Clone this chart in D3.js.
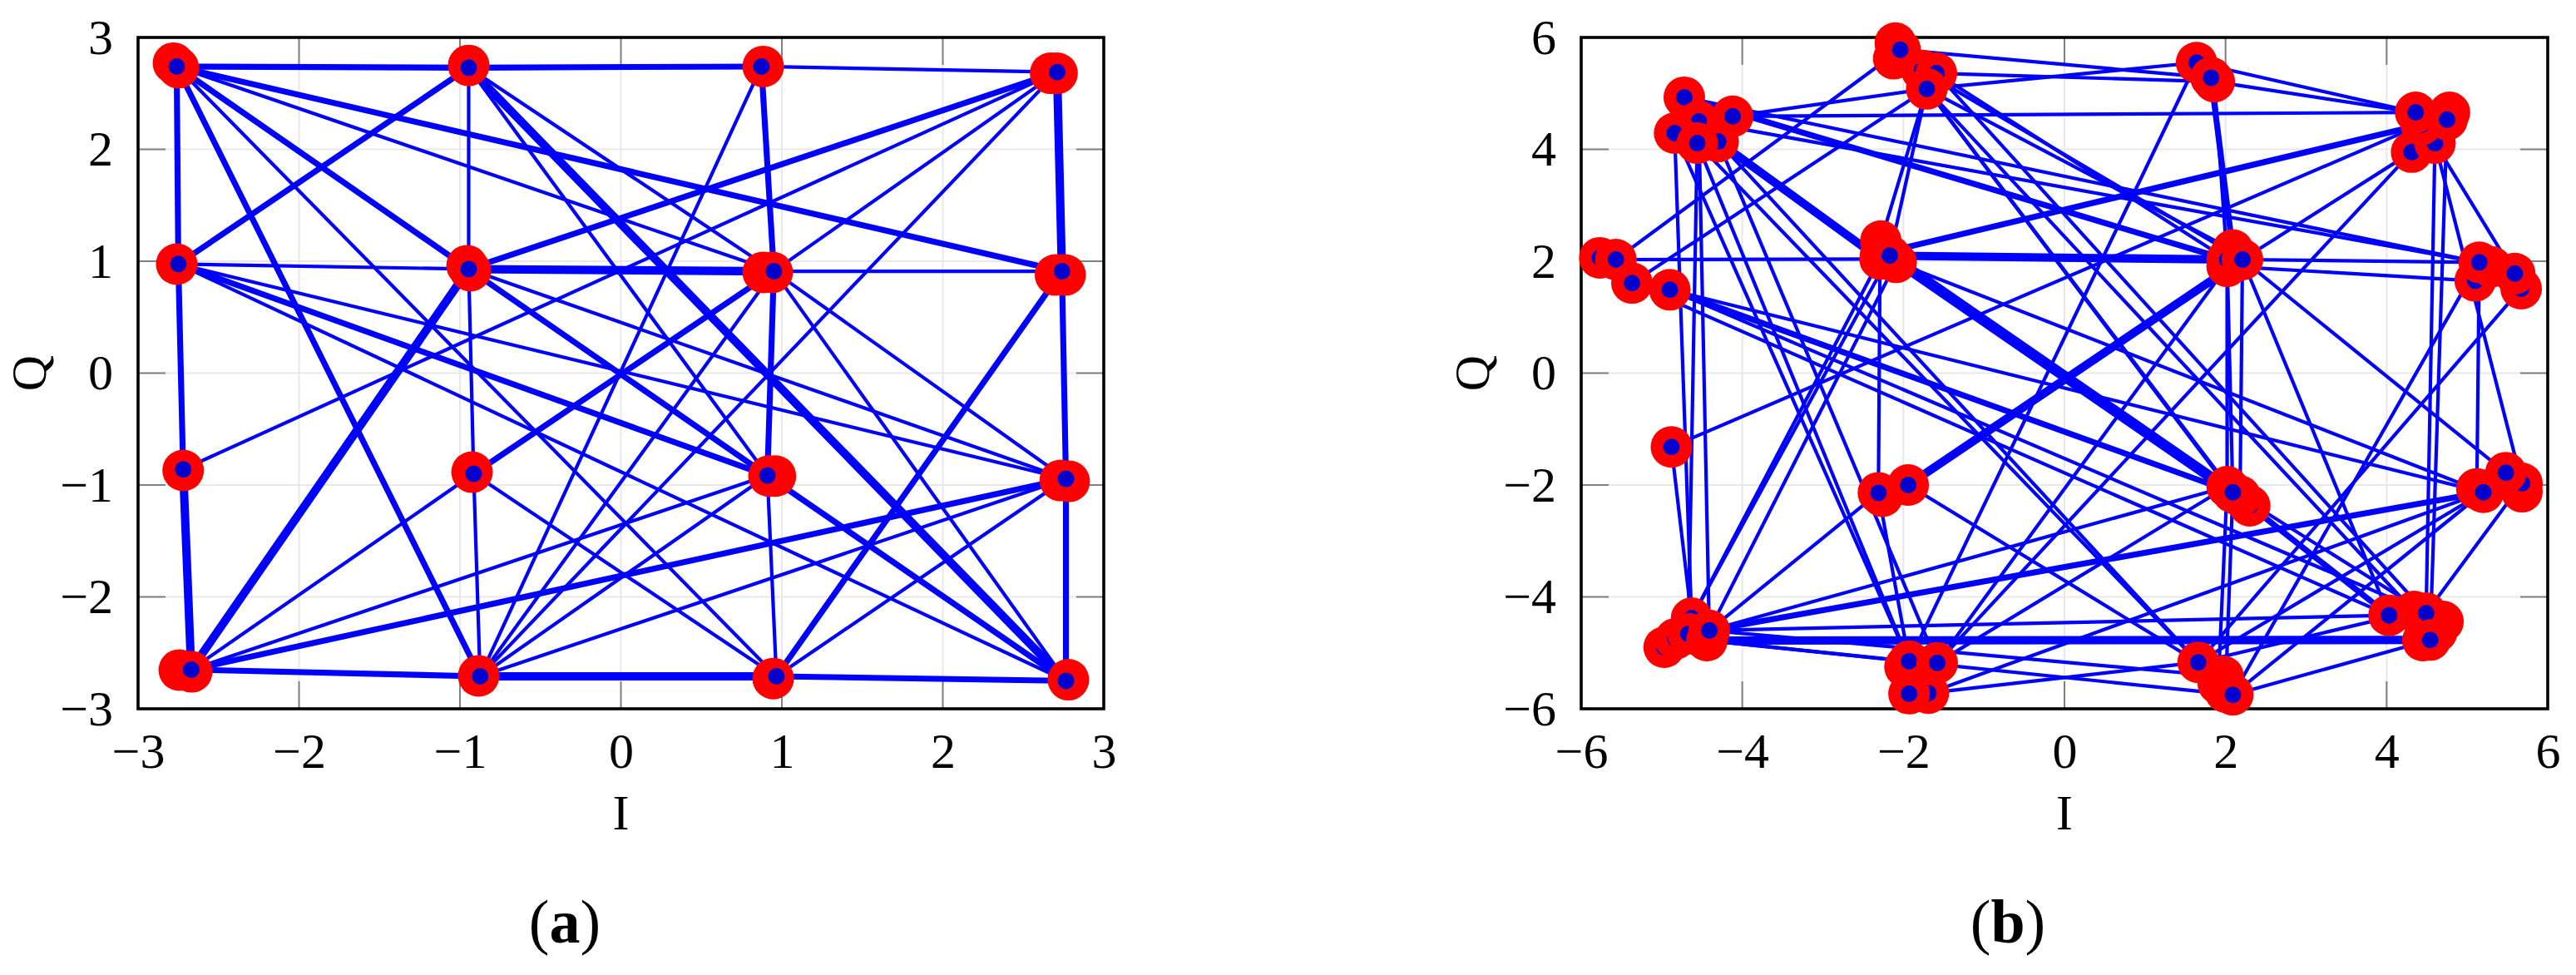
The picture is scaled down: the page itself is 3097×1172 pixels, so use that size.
<!DOCTYPE html>
<html><head><meta charset="utf-8">
<script src="https://cdn.jsdelivr.net/npm/d3@7"></script>
<style>html,body{margin:0;padding:0;background:#fff}svg{display:block}</style>
</head><body><svg id="c" width="3097" height="1172"></svg>
<script>
// ---------- panel (a) ----------
const aTicks = [-3,-2,-1,0,1,2,3];
const aDotI = [-2.76,-0.946,0.873,2.71, -2.75,-0.946,0.95,2.74, -2.72,-0.915,0.91,2.765, -2.67,-0.875,0.966,2.765];
const aDotQ = [2.74,2.73,2.74,2.69, 0.975,0.93,0.91,0.91, -0.86,-0.90,-0.915,-0.945, -2.65,-2.71,-2.71,-2.75];
const aHaloI = [-2.78,-2.75,-0.946,0.884,2.67,2.71,-2.76,-0.956,-0.935,0.884,0.94,2.70,2.76,-2.72,-0.925,0.92,0.96,2.73,2.785,-2.744,-2.667,-0.884,0.946,2.78];
const aHaloQ = [2.77,2.73,2.75,2.74,2.68,2.68,0.974,0.96,0.915,0.90,0.90,0.877,0.877,-0.87,-0.885,-0.92,-0.92,-0.96,-0.967,-2.654,-2.67,-2.706,-2.73,-2.74];
const aEdges = [
[0,1,2],[0,4,2],[0,7,2],[0,6,1],[0,5,2],[0,14,1],[0,13,2],[1,2,2],[1,4,2],[1,5,1],[1,6,1],[1,15,3],[1,10,1],
[2,3,1],[2,6,2],[2,13,1],[3,7,3],[3,5,2],[3,8,1],[3,6,1],[3,13,1],[4,5,1],[4,8,2],[4,11,1],[4,10,2],[4,15,1],
[5,6,3],[5,9,1],[5,11,1],[5,10,2],[5,12,3],[6,7,1],[6,10,2],[6,9,2],[6,13,1],[6,15,1],[6,11,1],[7,11,2],[7,14,2],
[8,12,3],[9,12,1],[9,14,1],[9,13,1],[10,12,1],[10,13,1],[10,14,1],[10,15,2],[11,15,2],[11,12,2],[11,13,1],[11,14,1],
[12,13,2],[13,14,3],[14,15,2]];

// ---------- panel (b) ----------
const bTicks = [-6,-4,-2,0,2,4,6];
const bIds = ["A1","A2","A3","A6","A4","A5","B1","B2","B3","Cx","C1","C2","D1","D3","D2",
 "E3","E4","E6","E1","E5","E2","F1","F2","F3","F4","G4","G5","G2","G3","G1","H3","H4","H2","H1",
 "J5","J4","J3","J1","J2","K1","L3","L1","L2","M2","M3","M4","M1","N5","N4","N3","N2","N1",
 "O5","O4","O2","O3","O6","O1","P3","P1","P2","P5","P4","Q3","Q5","Q4","Q2","Q1",
 "R4","R5","R6","R7","R1","R2","R3"];
const bI = [-4.72,-4.54,-4.12,-4.30,-4.84,-4.56,-2.10,-2.12,-2.04,-1.77,-1.59,-1.71,1.64,1.86,1.82,
 4.31,4.60,4.43,4.36,4.78,4.75,-5.77,-5.57,-5.37,-4.90,-2.28,-2.28,-2.29,-2.09,-2.17,2.09,2.02,2.02,2.21,
 5.10,5.67,5.30,5.15,5.59,-4.88,-2.26,-2.31,-1.94,2.30,2.02,2.18,2.09,5.12,5.68,5.68,5.48,5.20,
 -4.97,-4.83,-4.63,-4.67,-4.44,-4.41,-1.98,-1.93,-1.58,-1.69,-1.93,1.97,1.91,2.00,2.09,1.66,
 4.70,4.34,4.62,4.45,4.03,4.49,4.54];
const bQ = [4.93,4.50,4.59,4.14,4.29,4.11,5.90,5.62,5.78,5.41,5.36,5.08,5.55,5.21,5.28,
 3.95,4.11,4.44,4.66,4.66,4.53,2.06,2.03,1.61,1.49,2.36,2.14,2.04,1.98,2.10,2.20,1.91,2.03,2.03,
 1.65,1.51,1.90,1.98,1.78,-1.32,-2.20,-2.14,-2.00,-2.37,-2.03,-2.20,-2.13,-2.07,-2.12,-1.97,-1.78,-2.13,
 -4.90,-4.75,-4.38,-4.66,-4.78,-4.60,-5.25,-5.15,-5.18,-5.72,-5.73,-5.42,-5.55,-5.70,-5.75,-5.17,
 -4.44,-4.26,-4.63,-4.78,-4.33,-4.29,-4.77];
const bEdges = [
["A3","E1",1],["A3","C2",1],["A1","J1",1],["A2","J1",1],["A1","H2",2],["A6","G2",3],["A6","Q1",1],["A5","Q1",1],
["A4","P1",1],["A5","P1",1],["A6","P2",1],["A4","O2",1],["A5","O3",1],["A2","O1",1],["K1","O2",1],["K1","E6",1],
["B3","F2",1],["C2","F3",1],["B3","D2",1],["C1","D3",1],["C2","D1",1],["D1","E1",1],["D3","E1",1],["D2","H3",2],["D3","H2",1],["D1","P1",1],
["C1","H2",1],["Cx","H1",1],["C2","H3",1],["C2","M3",1],["C2","M1",1],["C1","R2",1],["C2","R5",1],["C2","G1",1],["C2","G4",1],
["G1","H2",3],["G5","E6",2],["G2","L1",1],["L1","P1",1],["G1","M1",4],["G3","N1",1],["L2","H1",3],["L2","Q1",1],["O1","L1",1],
["F4","M1",2],["F4","N1",1],["F3","R1",1],["F4","R2",1],["F2","G2",1],["O2","G2",1],["O1","G3",1],["O2","G1",1],
["O6","R3",3],["O1","R1",1],["O1","N1",2],["O1","M3",1],["O6","P1",1],["O1","Q3",1],["O6","Q2",1],
["P5","Q1",1],["H4","P2",1],["E3","P2",1],["P2","M3",1],["M3","Q5",1],["M1","Q4",1],["M2","R1",2],["M4","R2",1],
["H4","M3",1],["H2","M1",1],["H1","M4",1],["H1","R1",1],["H1","N2",1],["E3","H1",1],["E4","R2",1],["E2","R3",1],["E4","N3",1],["E4","J2",1],
["H1","J1",1],["H4","J5",1],["J1","N5",1],["J1","Q2",1],["J4","Q1",1],["R2","N3",1],["Q2","N1",1],["Q1","N1",1],["Q2","R3",1],["Q1","R5",1],["P5","N1",1]];

// ---------- layout and style ----------
const svg = d3.select("#c");
const fontFamily = "'Liberation Serif', serif";
const plotTop = 45, plotBottom = 852;
const widthFor = d3.scaleLinear().domain([1,4]).range([4.2,13]);
const tickText = d3.format("d");

function panel(opts){
  const x = d3.scaleLinear().domain(d3.extent(opts.ticks)).range([opts.left,opts.right]);
  const y = d3.scaleLinear().domain(d3.extent(opts.ticks)).range([plotBottom,plotTop]);
  const g = svg.append("g");
  const inner = opts.ticks.slice(1,-1);
  // grid
  g.append("g").selectAll("line").data(inner).join("line")
    .attr("x1",d=>x(d)).attr("x2",d=>x(d)).attr("y1",plotTop).attr("y2",plotBottom)
    .attr("stroke","#e8e8e8").attr("stroke-width",2);
  g.append("g").selectAll("line").data(inner).join("line")
    .attr("y1",d=>y(d)).attr("y2",d=>y(d)).attr("x1",opts.left).attr("x2",opts.right)
    .attr("stroke","#e8e8e8").attr("stroke-width",2);
  // inward ticks on all four sides
  const tick = 33, tc = "#808080";
  [[plotBottom,-tick],[plotTop,tick]].forEach(([p,l])=>{
    g.append("g").selectAll("line").data(inner).join("line")
      .attr("x1",d=>x(d)).attr("x2",d=>x(d)).attr("y1",p).attr("y2",p+l)
      .attr("stroke",tc).attr("stroke-width",2);
  });
  [[opts.left,tick],[opts.right,-tick]].forEach(([p,l])=>{
    g.append("g").selectAll("line").data(inner).join("line")
      .attr("y1",d=>y(d)).attr("y2",d=>y(d)).attr("x1",p).attr("x2",p+l)
      .attr("stroke",tc).attr("stroke-width",2);
  });
  // axes: labels only
  const ax = g.append("g").attr("transform",`translate(0,${plotBottom})`)
    .call(d3.axisBottom(x).tickValues(opts.ticks).tickFormat(tickText).tickSize(0).tickPadding(28));
  const ay = g.append("g").attr("transform",`translate(${opts.left},0)`)
    .call(d3.axisLeft(y).tickValues(opts.ticks).tickFormat(tickText).tickSize(0).tickPadding(30));
  [ax,ay].forEach(a=>{
    a.select(".domain").remove();
    a.selectAll("text").attr("font-family",fontFamily).attr("font-size",60).attr("fill","#000");
  });
  // frame
  g.append("rect").attr("x",opts.left).attr("y",plotTop)
    .attr("width",opts.right-opts.left).attr("height",plotBottom-plotTop)
    .attr("fill","none").attr("stroke","#000").attr("stroke-width",3.6);
  // axis titles
  g.append("text").attr("x",x(0)).attr("y",997).attr("text-anchor","middle")
    .attr("font-family",fontFamily).attr("font-size",60).text("I");
  g.append("text").attr("transform",`translate(${opts.qx},${y(0)}) rotate(-90)`).attr("text-anchor","middle")
    .attr("font-family",fontFamily).attr("font-size",60).text("Q");
  // caption
  const cap = g.append("text").attr("x",opts.capX).attr("y",1133).attr("text-anchor","middle")
    .attr("font-family",fontFamily).attr("font-size",74);
  cap.append("tspan").text("(");
  cap.append("tspan").attr("font-weight","bold").text(opts.cap);
  cap.append("tspan").text(")");
  return {g,x,y};
}

function segments(p, edges, I, Q, idx){
  p.g.append("g").selectAll("line").data(edges).join("line")
    .attr("x1",e=>p.x(I[idx(e[0])])).attr("y1",e=>p.y(Q[idx(e[0])]))
    .attr("x2",e=>p.x(I[idx(e[1])])).attr("y2",e=>p.y(Q[idx(e[1])]))
    .attr("stroke","#0000ff").attr("stroke-width",e=>widthFor(e[2]));
}
const RED = 25, DOT = 10;

// panel a
const pa = panel({ticks:aTicks,left:166,right:1327,qx:55,capX:679,cap:"a"});
segments(pa,aEdges,aDotI,aDotQ,k=>k);
pa.g.append("g").selectAll("circle").data(aHaloI.map((v,i)=>[v,aHaloQ[i]])).join("circle")
  .attr("cx",d=>pa.x(d[0])).attr("cy",d=>pa.y(d[1])).attr("r",RED).attr("fill","#ff0000");
pa.g.append("g").selectAll("circle").data(aDotI.map((v,i)=>[v,aDotQ[i]])).join("circle")
  .attr("cx",d=>pa.x(d[0])).attr("cy",d=>pa.y(d[1])).attr("r",DOT).attr("fill","#0000cc");

// panel b
const pb = panel({ticks:bTicks,left:1901,right:3063,qx:1790,capX:2414,cap:"b"});
const bIndex = new Map(bIds.map((k,i)=>[k,i]));
segments(pb,bEdges,bI,bQ,k=>bIndex.get(k));
const bSyms = pb.g.append("g").selectAll("g").data(bIds.map((k,i)=>[bI[i],bQ[i]])).join("g")
  .attr("transform",d=>`translate(${pb.x(d[0])},${pb.y(d[1])})`);
bSyms.append("circle").attr("r",RED).attr("fill","#ff0000");
bSyms.append("circle").attr("r",DOT).attr("fill","#0000cc");
</script></body></html>
